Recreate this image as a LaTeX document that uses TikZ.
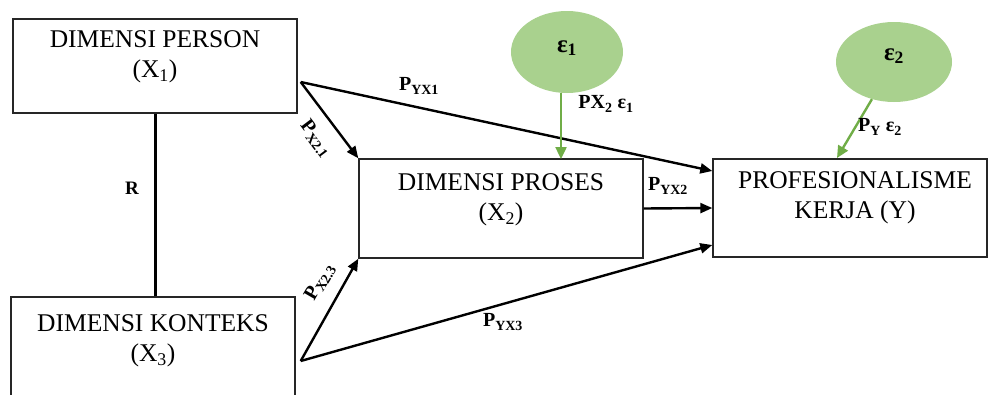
\documentclass[tikz,border=0pt]{standalone}
\usepackage{fontspec}
\setmainfont{Liberation Serif}
\usetikzlibrary{arrows.meta,shapes.geometric,calc}
\definecolor{egfill}{RGB}{169,209,142}
\definecolor{egline}{RGB}{112,173,71}
\tikzset{
  boxnode/.style={draw=black!85, line width=1.4pt, minimum width=284pt, minimum height=98pt, inner sep=0pt},
  boxtext/.style={align=center, font=\fontsize{25.5}{30}\selectfont, inner sep=0pt},
  errnode/.style={ellipse, fill=egfill, draw=none, inner sep=0pt},
  errtext/.style={font=\fontsize{25}{28}\selectfont\bfseries},
  patharrow/.style={line width=2.4pt, -{Triangle[length=12pt,width=10pt]}},
  greenarrow/.style={draw=egline, line width=2.4pt, -{Triangle[length=12pt,width=11pt]}},
  plabel/.style={font=\fontsize{20}{22}\selectfont\bfseries, inner sep=0.5pt},
}
\begin{document}
\begin{tikzpicture}[x=1pt,y=-1pt]
\useasboundingbox (0,0) rectangle (993,394);
% boxes
\node[boxnode, minimum height=94pt] (x1) at (155,66) {};
\node[boxtext] (x1t) at (155,57) {DIMENSI PERSON\\(X\textsubscript{1})};
\node[boxnode, minimum height=99pt] (x2) at (501,208.5) {};
\node[boxtext] (x2t) at (501,200) {DIMENSI PROSES\\(X\textsubscript{2})};
\node[boxnode, minimum width=274pt] (y) at (850,208) {};
\node[boxtext] (yt) at (855,198) {PROFESIONALISME\\KERJA (Y)};
\node[boxnode, minimum height=110pt] (x3) at (153,352) {};
\node[boxtext] (x3t) at (153,341) {DIMENSI KONTEKS\\(X\textsubscript{3})};
% error terms
\node[errnode, minimum width=112pt, minimum height=82pt] (e1) at (567,52) {};
\node[errtext] (e1t) at (567,48) {ε\textsubscript{1}};
\node[errnode, minimum width=116pt, minimum height=80pt] (e2) at (894,62) {};
\node[errtext] (e2t) at (894,56) {ε\textsubscript{2}};
% correlation
\draw[line width=3pt] (x1.south) -- (x1.south |- x3.north);
\node[font=\fontsize{19}{20}\selectfont\bfseries] (r) at (132,188) {R};
% start points
\coordinate (s1) at ($(x1.east)+(3,16)$);
\coordinate (s3) at ($(x3.east)+(5,9)$);
\coordinate (y1) at ($(y.west)+(0,-37)$);
\coordinate (y3) at ($(y.west)+(0,37)$);
% arrows
\draw[patharrow] (s1) -- (x2.north west);
\draw[patharrow] (s1) -- (y1);
\draw[patharrow] (s3) -- (x2.south west);
\draw[patharrow] (s3) -- (y3);
\draw[patharrow] (x2.east) -- (y.west);
% green arrows
\coordinate (g1) at (561,159);
\coordinate (g2) at (837,158);
\draw[greenarrow] (e1.south -| g1) -- (g1);
\draw[greenarrow] (e2) -- (g2);
% labels
\node[plabel] (lyx1) at (419,86) {P\textsubscript{YX1}};
\node[plabel, rotate=-53] (lx21) at (316,139) {P\textsubscript{X2.1}};
\node[plabel] (lyx2) at (668,186) {P\textsubscript{YX2}};
\node[plabel, rotate=60] (lx23) at (320,282) {P\textsubscript{X2.3}};
\node[plabel] (lyx3) at (503,322) {P\textsubscript{YX3}};
\node[plabel] (le1) at (606,104) {PX\textsubscript{2} ε\textsubscript{1}};
\node[plabel] (le2) at (880,127) {P\textsubscript{Y} ε\textsubscript{2}};
\end{tikzpicture}
\end{document}
